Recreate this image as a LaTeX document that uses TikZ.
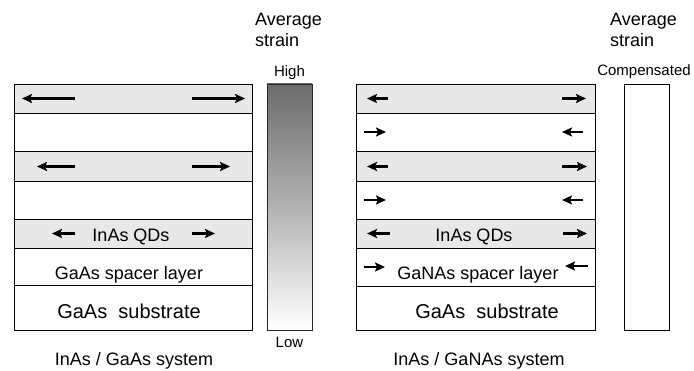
\documentclass[tikz,border=0pt]{standalone}
\usepackage{fontspec}
\setmainfont{Liberation Sans}
\usetikzlibrary{arrows.meta}
\definecolor{qdgray}{RGB}{232,232,232}
\definecolor{straintop}{RGB}{108,108,108}
\begin{document}
\begin{tikzpicture}[x=1pt,y=-1pt]
\tikzset{
  layer/.style={draw=black, line width=0.9pt, inner sep=0pt, outer sep=0pt,
    anchor=north west, minimum width=238pt},
  qdlayer/.style={layer, fill=qdgray},
  bar/.style={draw=black!85, line width=0.9pt, inner sep=0pt, outer sep=0pt,
    anchor=north west, minimum width=45pt, minimum height=246pt},
  sarrow/.style={line width=2.1pt, -{Stealth[length=10pt,width=9pt,inset=2pt]}},
  txt/.style={inner sep=0pt, anchor=base, font=\fontsize{18}{20}\selectfont},
  bigtxt/.style={inner sep=0pt, anchor=base, font=\fontsize{20}{22}\selectfont},
  smalltxt/.style={inner sep=0pt, anchor=base, font=\fontsize{15}{17}\selectfont},
  headtxt/.style={inner sep=0pt, anchor=base west, font=\fontsize{18}{20}\selectfont},
}
\useasboundingbox (0,0) rectangle (694,371);

% ---------- InAs / GaAs stack ----------
\node[qdlayer, minimum height=29pt] (a1) at (14,84) {};
\node[layer,   minimum height=38pt] (a2) at (14,113) {};
\node[qdlayer, minimum height=30pt] (a3) at (14,151) {};
\node[layer,   minimum height=38pt] (a4) at (14,181) {};
\node[qdlayer, minimum height=29pt] (a5) at (14,219) {};
\node[layer,   minimum height=37pt] (a6) at (14,248) {};
\node[layer,   minimum height=45pt] (a7) at (14,285) {};

\draw[sarrow] (75,98.5) -- (22,98.5);
\draw[sarrow] (192,98.5) -- (245,98.5);
\draw[sarrow] (75,166.5) -- (37,166.5);
\draw[sarrow] (192,166.5) -- (230,166.5);
\draw[sarrow] (75,233.5) -- (52,233.5);
\draw[sarrow] (192,233.5) -- (215,233.5);

\node[txt] (aqd) at (131,241.5) {InAs QDs};
\node[txt] (asp) at (129,280) {GaAs spacer layer};
\node[bigtxt] (asub) at (129,319) {GaAs\ \ substrate};
\node[txt] (asys) at (134,366) {InAs / GaAs system};

% strain bar, graded
\node[bar, top color=straintop, bottom color=white, middle color=black!30] (abar) at (267,84) {};
\node[smalltxt] (ahigh) at (289.5,77) {High};
\node[smalltxt] (alow) at (289.5,348) {Low};
\node[headtxt] (aavg) at (255,26) {Average};
\node[headtxt] (astr) at (255,47) {strain};

% ---------- InAs / GaNAs stack ----------
\node[qdlayer, minimum height=29pt, minimum width=239pt] (b1) at (356,84) {};
\node[layer,   minimum height=38pt, minimum width=239pt] (b2) at (356,113) {};
\node[qdlayer, minimum height=30pt, minimum width=239pt] (b3) at (356,151) {};
\node[layer,   minimum height=38pt, minimum width=239pt] (b4) at (356,181) {};
\node[qdlayer, minimum height=29pt, minimum width=239pt] (b5) at (356,219) {};
\node[layer,   minimum height=38pt, minimum width=239pt] (b6) at (356,248) {};
\node[layer,   minimum height=44pt, minimum width=239pt] (b7) at (356,286) {};

\draw[sarrow] (388,98.5) -- (367,98.5);
\draw[sarrow] (562,98.5) -- (586,98.5);
\draw[sarrow] (364,132) -- (386,132);
\draw[sarrow] (583,132) -- (562,132);
\draw[sarrow] (388,166.5) -- (367,166.5);
\draw[sarrow] (562,166.5) -- (587,166.5);
\draw[sarrow] (364,200) -- (386,200);
\draw[sarrow] (583,200) -- (562,200);
\draw[sarrow] (390,233.5) -- (367,233.5);
\draw[sarrow] (563,233.5) -- (587,233.5);
\draw[sarrow] (364,267) -- (385,267);
\draw[sarrow] (588,266) -- (565,266);

\node[txt] (bqd) at (474,241.5) {InAs QDs};
\node[txt] (bsp) at (478,280) {GaNAs spacer layer};
\node[bigtxt] (bsub) at (487,319) {GaAs\ \ substrate};
\node[txt] (bsys) at (479,366) {InAs / GaNAs system};

% strain bar, compensated
\node[bar, draw=black, fill=white] (bbar) at (624,84) {};
\node[smalltxt] (bcomp) at (644,76) {Compensated};
\node[headtxt] (bavg) at (610,26) {Average};
\node[headtxt] (bstr) at (610,47) {strain};
\end{tikzpicture}
\end{document}
